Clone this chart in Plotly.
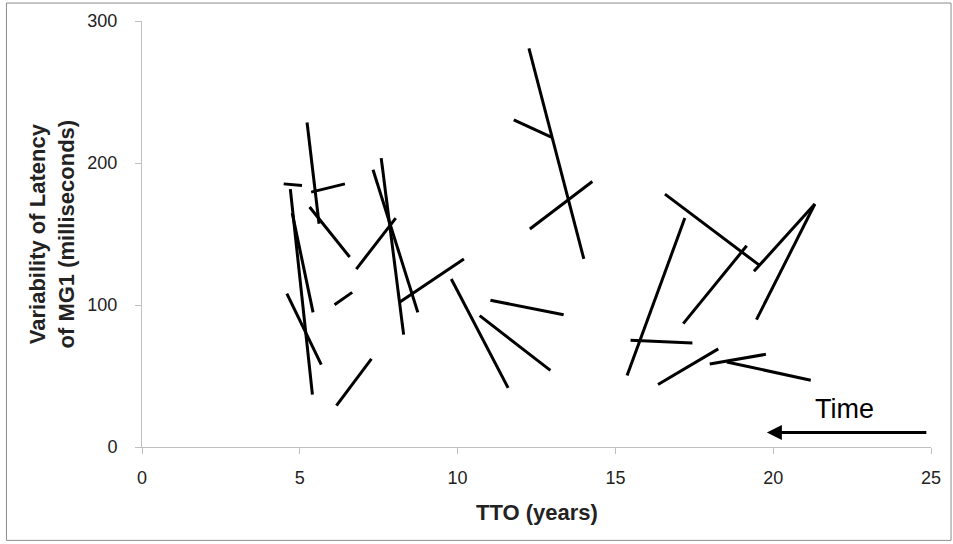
import plotly.graph_objects as go

# Segment endpoints (TTO years, variability ms)
x_start = [4.49, 5.23, 5.36, 4.70, 4.76, 5.31, 4.59, 6.10, 6.16, 6.79, 7.32, 7.58, 8.16, 9.80,
           11.04, 10.70, 12.26, 11.78, 12.29, 16.57, 17.20, 17.15, 19.39, 21.32, 15.48, 16.35,
           17.99, 18.53]
x_end = [5.07, 5.61, 6.43, 5.40, 5.42, 6.58, 5.68, 6.66, 7.27, 8.04, 8.74, 8.29, 10.20, 11.60,
         13.36, 12.94, 14.00, 12.97, 14.27, 19.58, 15.37, 19.16, 21.32, 19.47, 17.44, 18.26,
         19.77, 21.19]
y_start = [185.3, 228.5, 179.5, 181.6, 164.7, 169.0, 108.0, 100.2, 29.2, 125.3, 195.2, 203.4,
           101.9, 118.3, 103.3, 92.5, 280.8, 230.4, 153.5, 178.1, 161.2, 86.9, 123.7, 171.1,
           75.1, 44.0, 58.5, 59.9]
y_end = [184.1, 157.2, 185.3, 36.9, 94.8, 133.8, 58.0, 108.9, 62.0, 161.2, 94.8, 79.1, 132.4,
         41.6, 93.2, 54.0, 132.4, 218.2, 187.0, 127.7, 50.3, 141.7, 171.1, 89.7, 73.3, 69.1,
         65.3, 47.0]

x_ticks = [0, 5, 10, 15, 20, 25]
y_ticks = [0, 100, 200, 300]

# "Time" arrow (data coordinates)
arrow_tail_x, arrow_head_x, arrow_y = 24.9, 19.8, 10.2
time_label = "Time"

xs, ys = [], []
for a, b, c, d in zip(x_start, x_end, y_start, y_end):
    xs += [a, b, None]
    ys += [c, d, None]

FONT = "Liberation Sans, Arial, sans-serif"

fig = go.Figure()
fig.add_trace(go.Scatter(x=xs, y=ys, mode="lines",
                         line=dict(color="black", width=3),
                         showlegend=False, hoverinfo="skip"))

axis_common = dict(showgrid=False, zeroline=False, showline=True, linecolor="#bfbfbf",
                   linewidth=1, ticks="outside", tickcolor="#bfbfbf", ticklen=6,
                   tickfont=dict(family=FONT, size=18, color="#222"))

fig.update_xaxes(range=[0, 25], tickvals=x_ticks, ticklabelstandoff=8, **axis_common)
fig.update_yaxes(range=[0, 300], tickvals=y_ticks, ticklabelstandoff=14, **axis_common)

fig.add_annotation(x=arrow_head_x, y=arrow_y, ax=arrow_tail_x, ay=arrow_y,
                   xref="x", yref="y", axref="x", ayref="y", text="",
                   showarrow=True, arrowhead=2, arrowsize=1, arrowwidth=3, arrowcolor="black")
fig.add_annotation(x=22.27, y=27.0, xref="x", yref="y", text=time_label, showarrow=False,
                   font=dict(family=FONT, size=27, color="black"))

fig.add_annotation(x=0.5, y=-0.1536, xref="paper", yref="paper", text="<b>TTO (years)</b>",
                   showarrow=False, xanchor="center", yanchor="middle",
                   font=dict(family=FONT, size=22, color="#222"))
fig.add_annotation(x=-0.1135, y=0.5, xref="paper", yref="paper",
                   text="<b>Variability of Latency<br>of MG1 (milliseconds)</b>",
                   showarrow=False, xanchor="center", yanchor="middle", textangle=-90,
                   font=dict(family=FONT, size=22, color="#222"))

# outer frame
fig.add_shape(type="rect", xref="paper", yref="paper", x0=-0.1718, x1=1.0254,
              y0=-0.2192, y1=1.0422, line=dict(color="#8c8c8c", width=1))

fig.update_layout(width=953, height=544, autosize=False,
                  margin=dict(l=142, r=22, t=21, b=97),
                  plot_bgcolor="white", paper_bgcolor="white",
                  font=dict(family=FONT))

fig.write_html("out.html")
